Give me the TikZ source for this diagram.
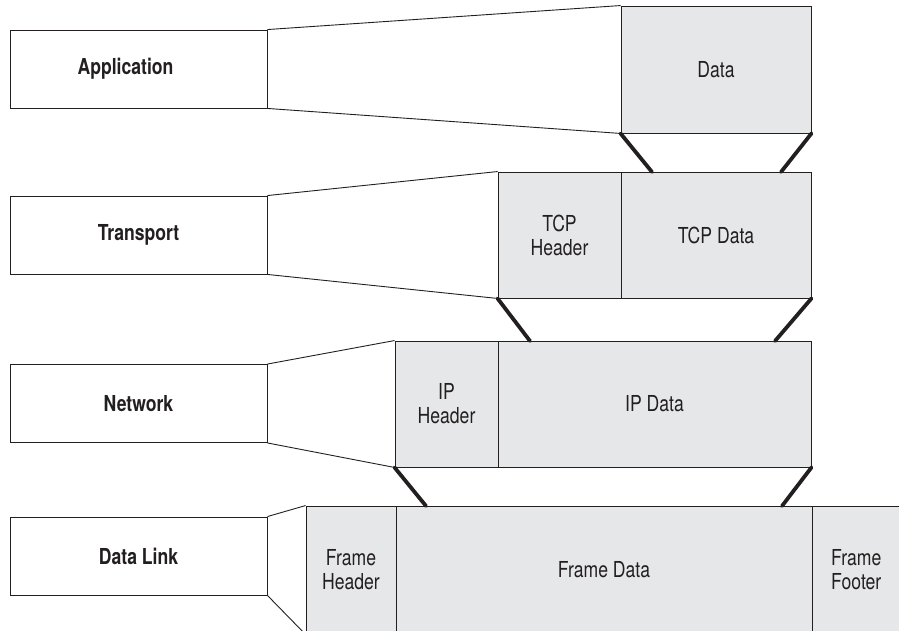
\documentclass[tikz,border=0pt]{standalone}
\usepackage{fontspec}
\setmainfont{TeX Gyre Heros}[FakeStretch=0.8]
\definecolor{ink}{HTML}{231F20}
\definecolor{pkt}{HTML}{E6E7E8}
\begin{document}
\begin{tikzpicture}[x=1pt,y=-1pt,
  layerbox/.style={draw=ink, fill=white, line width=0.9pt, inner sep=0pt,
    minimum width=257pt, minimum height=78pt, text=ink,
    font=\fontsize{22}{24}\selectfont\bfseries},
  pktbox/.style={draw=ink, fill=pkt, line width=0.9pt, inner sep=0pt,
    align=center, text=ink, font=\fontsize{22}{24}\selectfont},
  thinline/.style={draw=ink, line width=0.9pt},
  linkline/.style={draw=ink, line width=3.8pt, line cap=round}]
\useasboundingbox (0,0) rectangle (899,631);
\clip (0,0) rectangle (899,631);

% layer boxes
\node[layerbox] (app)   at (138.5,69)    {Application\hspace*{26pt}};
\node[layerbox] (trans) at (138.5,235)   {Transport};
\node[layerbox] (net)   at (138.5,403.5) {Network};
\node[layerbox] (dl)    at (138.5,556)   {Data Link};

% packet boxes
\node[pktbox, minimum width=190pt, minimum height=127pt] (data) at (716,69.5) {Data};
\node[pktbox, minimum width=123pt, minimum height=126pt] (tcph) at (559.5,235) {TCP\\Header};
\node[pktbox, minimum width=190pt, minimum height=126pt] (tcpd) at (716,235) {TCP Data};
\node[pktbox, minimum width=103pt, minimum height=126pt] (iph) at (446.5,404) {IP\\Header};
\node[pktbox, minimum width=313pt, minimum height=126pt] (ipd) at (654.5,404) {IP Data};
\node[pktbox, minimum width=90pt, minimum height=128pt] (fh) at (351,570) {Frame\\Header};
\node[pktbox, minimum width=416pt, minimum height=128pt] (fd) at (604,570) {Frame Data};
\node[pktbox, minimum width=88.5pt, minimum height=128pt] (ff) at (856.25,570) {Frame\\Footer};

% expansion lines
\draw[thinline] (app.north east) -- (data.north west);
\draw[thinline] (app.south east) -- (data.south west);
\draw[thinline] (trans.north east) -- (tcph.north west);
\draw[thinline] (trans.south east) -- (tcph.south west);
\draw[thinline] (net.north east) -- (iph.north west);
\draw[thinline] (net.south east) -- (iph.south west);
\draw[thinline] (dl.north east) -- (fh.north west);
\draw[thinline] (dl.south east) -- (fh.south west);

% encapsulation links
\coordinate (c1) at (652,172);
\coordinate (c2) at (781,172);
\coordinate (c3) at (530,341);
\coordinate (c4) at (775,341);
\coordinate (c5) at (426,506);
\coordinate (c6) at (782,506);
\draw[linkline] (data.south west) -- (c1);
\draw[linkline] (data.south east) -- (c2);
\draw[linkline] (tcph.south west) -- (c3);
\draw[linkline] (tcpd.south east) -- (c4);
\draw[linkline] (iph.south west) -- (c5);
\draw[linkline] (ipd.south east) -- (c6);
\end{tikzpicture}
\end{document}
